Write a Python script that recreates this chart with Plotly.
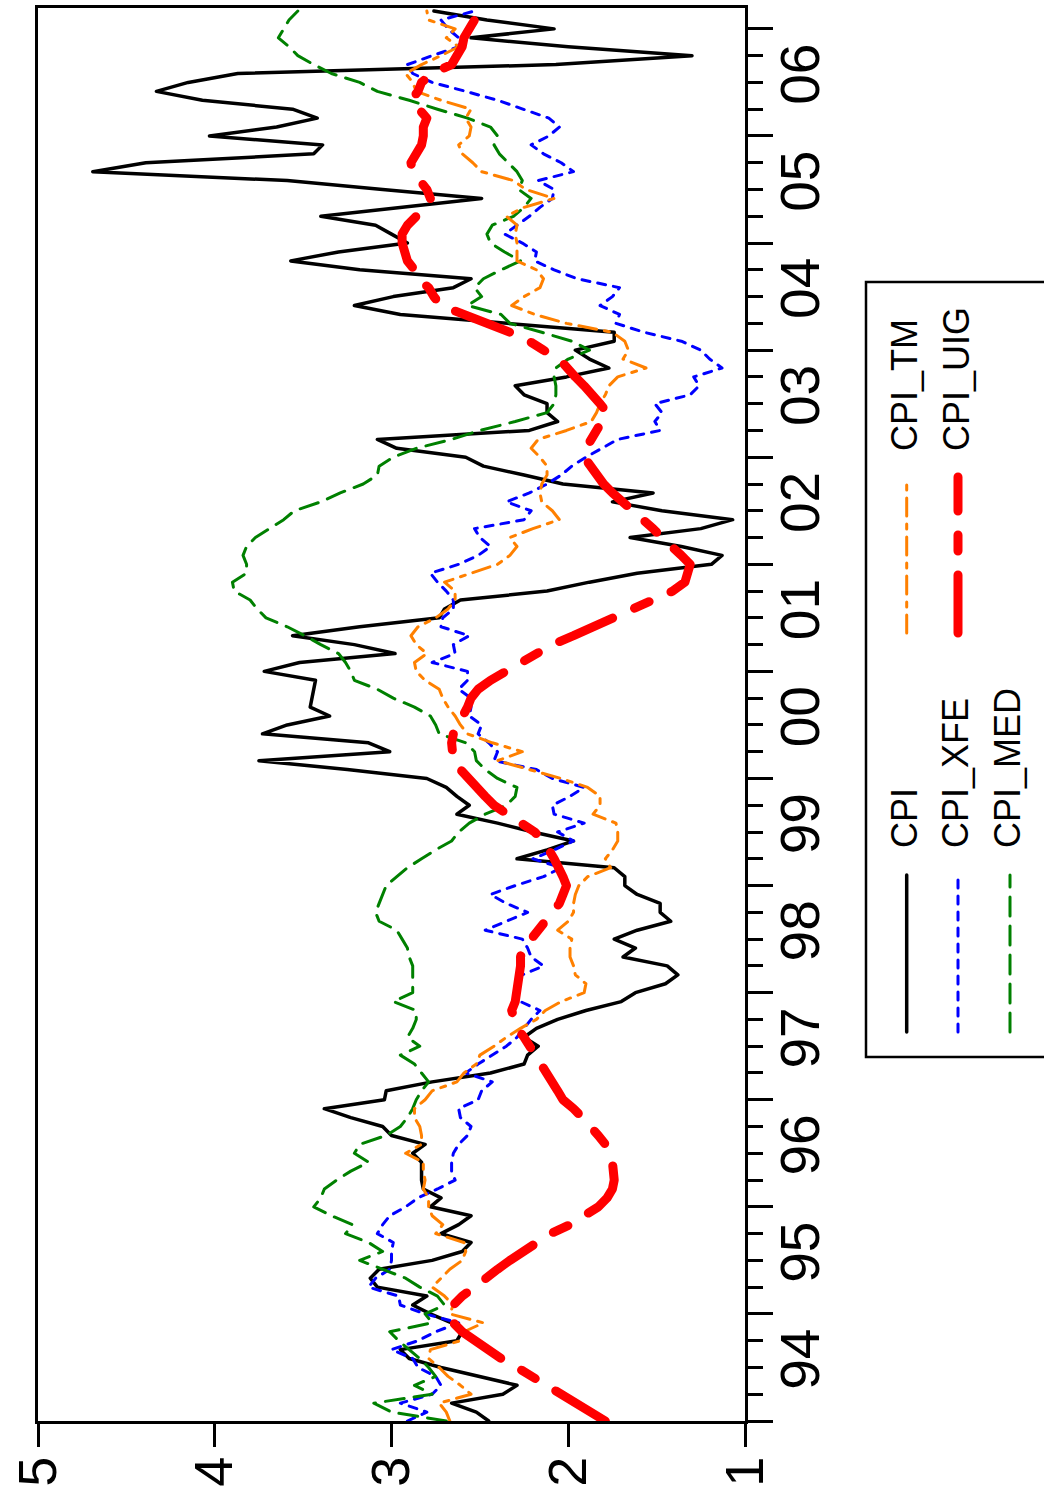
import pandas as pd
import plotly.graph_objects as go

# Monthly observations, Jan 1994 - Mar 2007 (year-over-year inflation, %)
months = pd.date_range("1994-01-01", periods=159, freq="MS")
t = list(months.year + (months.month - 1) / 12.0)

cpi = [
    2.45, 2.52, 2.66, 2.37, 2.29, 2.51, 2.72, 2.90, 2.95, 2.63, 2.60, 2.66, 2.78, 2.88, 2.80, 3.08, 3.12, 3.07, 2.77, 2.60, 2.55, 2.72,
    2.62, 2.55, 2.78, 2.72, 2.82, 2.83, 2.83, 2.83, 2.88, 2.81, 3.00, 3.05, 3.23, 3.38, 3.04, 3.03, 2.77, 2.44, 2.25, 2.23, 2.17, 2.25,
    2.18, 2.06, 1.90, 1.70, 1.62, 1.45, 1.38, 1.44, 1.69, 1.62, 1.74, 1.61, 1.42, 1.48, 1.48, 1.61, 1.68, 1.68, 1.74, 2.29, 2.12, 1.97,
    2.20, 2.40, 2.63, 2.56, 2.63, 2.69, 2.80, 3.25, 3.75, 3.01, 3.13, 3.73, 3.59, 3.35, 3.46, 3.45, 3.44, 3.43, 3.72, 3.52, 2.98, 3.21, 3.56,
    3.18, 2.73, 2.70, 2.61, 2.12, 1.88, 1.61, 1.19, 1.13, 1.36, 1.65, 1.25, 1.07, 1.47, 1.75, 1.52, 2.03, 2.25, 2.48, 2.58, 2.97, 3.08, 2.22, 2.06,
    2.12, 2.12, 2.25, 2.30, 2.01, 1.77, 1.88, 1.96, 1.74, 1.74, 2.35, 2.95, 3.21, 2.99, 2.65, 2.55, 3.18, 3.57, 3.30, 2.91, 3.00, 3.09, 3.40,
    2.95, 2.49, 3.05, 3.59, 4.69, 4.39, 3.44, 3.39, 4.03, 3.65, 3.42, 3.56, 4.07, 4.33, 4.15, 3.87, 2.07, 1.30, 2.00, 2.55, 2.08, 2.46, 2.76,
]

cpi_xfe = [
    2.91, 2.80, 2.95, 2.77, 2.72, 2.75, 2.85, 2.88, 3.00, 2.85, 2.75, 2.62, 2.81, 2.95, 2.96, 3.13, 3.09, 3.01, 3.00, 3.00, 2.99, 3.08,
    3.05, 3.01, 2.92, 2.85, 2.74, 2.64, 2.66, 2.66, 2.65, 2.62, 2.57, 2.55, 2.61, 2.62, 2.51, 2.49, 2.43, 2.58, 2.51, 2.43, 2.35, 2.29,
    2.25, 2.21, 2.16, 2.27, 2.29, 2.29, 2.26, 2.14, 2.21, 2.23, 2.26, 2.47, 2.35, 2.23, 2.35, 2.44, 2.30, 2.14, 2.04, 2.20, 2.08, 1.97,
    2.06, 1.91, 2.08, 2.09, 1.99, 1.91, 2.09, 2.18, 2.42, 2.40, 2.45, 2.51, 2.49, 2.56, 2.55, 2.55, 2.62, 2.57, 2.57, 2.77, 2.64, 2.65, 2.56,
    2.72, 2.71, 2.65, 2.65, 2.69, 2.74, 2.78, 2.62, 2.51, 2.44, 2.50, 2.53, 2.25, 2.21, 2.35, 2.22, 2.12, 2.04, 1.98, 1.90, 1.81, 1.72, 1.48, 1.51,
    1.47, 1.51, 1.31, 1.26, 1.29, 1.13, 1.20, 1.25, 1.36, 1.57, 1.73, 1.71, 1.82, 1.75, 1.71, 1.95, 2.08, 2.19, 2.18, 2.26, 2.36, 2.29, 2.22,
    2.16, 2.09, 2.08, 2.17, 1.97, 2.04, 2.14, 2.21, 2.11, 2.05, 2.11, 2.26, 2.40, 2.58, 2.77, 2.88, 2.91, 2.77, 2.62, 2.62, 2.68, 2.72, 2.53,
]

cpi_med = [
    2.69, 3.00, 3.10, 2.77, 2.87, 2.75, 2.79, 2.84, 2.90, 2.96, 3.01, 2.77, 2.81, 2.70, 2.74, 2.84, 2.92, 3.05, 3.18, 3.05, 3.13, 3.26,
    3.22, 3.34, 3.44, 3.40, 3.38, 3.31, 3.23, 3.13, 3.21, 3.18, 3.03, 2.95, 2.91, 2.88, 2.86, 2.83, 2.79, 2.83, 2.87, 2.95, 2.84, 2.91,
    2.88, 2.86, 2.86, 2.99, 2.88, 2.88, 2.88, 2.88, 2.90, 2.91, 2.94, 2.97, 3.07, 3.09, 3.07, 3.05, 3.03, 2.97, 2.91, 2.83, 2.75, 2.66,
    2.62, 2.56, 2.47, 2.35, 2.30, 2.29, 2.40, 2.47, 2.52, 2.53, 2.58, 2.73, 2.75, 2.78, 2.87, 2.99, 3.08, 3.21, 3.23, 3.26, 3.30, 3.40, 3.49,
    3.59, 3.71, 3.76, 3.80, 3.89, 3.90, 3.82, 3.82, 3.84, 3.82, 3.77, 3.69, 3.61, 3.55, 3.40, 3.29, 3.16, 3.08, 3.07, 2.99, 2.86, 2.66, 2.50, 2.30,
    2.12, 2.08, 2.07, 2.07, 2.08, 2.07, 2.00, 1.88, 1.98, 2.15, 2.33, 2.38, 2.57, 2.49, 2.53, 2.48, 2.38, 2.27, 2.36, 2.44, 2.46, 2.43, 2.31,
    2.25, 2.21, 2.28, 2.26, 2.29, 2.34, 2.39, 2.42, 2.40, 2.44, 2.57, 2.74, 2.90, 3.08, 3.18, 3.34, 3.44, 3.53, 3.58, 3.64, 3.61, 3.58, 3.53,
]

cpi_tm = [
    2.67, 2.69, 2.73, 2.55, 2.61, 2.68, 2.73, 2.79, 2.78, 2.61, 2.59, 2.48, 2.67, 2.65, 2.70, 2.77, 2.72, 2.67, 2.60, 2.58, 2.59, 2.75,
    2.71, 2.77, 2.79, 2.79, 2.82, 2.81, 2.82, 2.82, 2.92, 2.83, 2.83, 2.84, 2.87, 2.87, 2.81, 2.77, 2.63, 2.59, 2.52, 2.50, 2.42, 2.35,
    2.27, 2.18, 2.13, 2.04, 1.91, 1.90, 1.96, 1.97, 1.99, 1.99, 1.98, 2.06, 2.00, 1.97, 1.97, 1.96, 1.94, 1.89, 1.76, 1.79, 1.75, 1.72,
    1.72, 1.73, 1.86, 1.82, 1.82, 1.89, 2.04, 2.22, 2.40, 2.26, 2.43, 2.57, 2.61, 2.64, 2.68, 2.71, 2.73, 2.81, 2.86, 2.87, 2.80, 2.86, 2.89,
    2.85, 2.75, 2.68, 2.64, 2.64, 2.70, 2.55, 2.40, 2.33, 2.29, 2.33, 2.20, 2.05, 2.09, 2.15, 2.16, 2.15, 2.12, 2.12, 2.16, 2.21, 2.17, 2.01, 1.87,
    1.84, 1.82, 1.79, 1.77, 1.72, 1.56, 1.69, 1.66, 1.68, 1.75, 2.01, 2.19, 2.32, 2.25, 2.16, 2.14, 2.18, 2.29, 2.29, 2.29, 2.30, 2.29, 2.35,
    2.25, 2.08, 2.24, 2.31, 2.49, 2.54, 2.60, 2.62, 2.56, 2.55, 2.58, 2.55, 2.72, 2.86, 2.88, 2.92, 2.83, 2.72, 2.62, 2.69, 2.64, 2.79, 2.80,
]

cpi_uig = [
    1.79, 1.87, 1.95, 2.04, 2.13, 2.21, 2.29, 2.38, 2.46, 2.53, 2.60, 2.65, 2.68, 2.65, 2.60, 2.53, 2.47, 2.40, 2.33, 2.25, 2.17, 2.10,
    1.99, 1.90, 1.83, 1.78, 1.75, 1.74, 1.74, 1.75, 1.77, 1.79, 1.83, 1.87, 1.92, 1.97, 2.03, 2.06, 2.09, 2.12, 2.16, 2.18, 2.21, 2.25,
    2.29, 2.31, 2.32, 2.30, 2.29, 2.29, 2.28, 2.27, 2.27, 2.26, 2.21, 2.17, 2.13, 2.10, 2.05, 2.03, 2.01, 2.03, 2.05, 2.08, 2.11, 2.14,
    2.19, 2.27, 2.35, 2.42, 2.47, 2.52, 2.57, 2.61, 2.65, 2.66, 2.66, 2.65, 2.62, 2.60, 2.57, 2.55, 2.51, 2.44, 2.35, 2.26, 2.17, 2.09, 1.97,
    1.86, 1.76, 1.66, 1.55, 1.41, 1.34, 1.32, 1.31, 1.36, 1.42, 1.47, 1.52, 1.58, 1.64, 1.70, 1.75, 1.80, 1.84, 1.88, 1.91, 1.90, 1.87, 1.83, 1.80,
    1.78, 1.82, 1.86, 1.91, 1.96, 2.01, 2.05, 2.14, 2.22, 2.33, 2.47, 2.61, 2.72, 2.76, 2.79, 2.85, 2.87, 2.91, 2.93, 2.94, 2.94, 2.91, 2.86,
    2.80, 2.78, 2.80, 2.84, 2.88, 2.89, 2.86, 2.83, 2.82, 2.82, 2.80, 2.85, 2.89, 2.85, 2.83, 2.77, 2.66, 2.63, 2.60, 2.59, 2.56, 2.52, 2.50,
]

series_names = ["CPI", "CPI_XFE", "CPI_MED", "CPI_TM", "CPI_UIG"]
series_values = [cpi, cpi_xfe, cpi_med, cpi_tm, cpi_uig]

year_starts = list(range(1994, 2008))
year_labels = ["94", "95", "96", "97", "98", "99", "00", "01", "02", "03", "04", "05", "06"]
value_ticks = [1, 2, 3, 4, 5]

# line styles (round caps are added in the page, so dashes are drawn a bit shorter)
styles = {
    "CPI":     dict(color="#000000", width=3.5, dash="solid"),
    "CPI_XFE": dict(color="#0000ff", width=3, dash="8px,8px"),
    "CPI_MED": dict(color="#008000", width=3, dash="19px,10px"),
    "CPI_TM":  dict(color="#ff8000", width=3, dash="18px,8px,5px,8px"),
    "CPI_UIG": dict(color="#ff0000", width=9, dash="58px,24px,16px,24px"),
}

FIG_W, FIG_H = 1044, 1495
L, R_PX, T, B_PX = 38, 745, 8, 1421
paper_w = FIG_W - L
paper_h = B_PX - T

t_top = 2007.195

fig = go.Figure()

for name, vals in zip(series_names, series_values):
    fig.add_trace(go.Scatter(x=vals, y=t, mode="lines", name=name,
                             line=styles[name], hoverinfo="skip"))

# carrier trace so the label axis is drawn
fig.add_trace(go.Scatter(x=[None], y=[None], yaxis="y2", mode="lines",
                         showlegend=False, hoverinfo="skip"))

# legend box content (rotated), drawn on a pixel-scaled helper subplot
legend_slots = {
    "CPI":     (906.7, 1032, 875, 904, 850),
    "CPI_XFE": (958.0, 1032, 875, 955, 850),
    "CPI_MED": (1010.0, 1032, 875, 1007, 850),
    "CPI_TM":  (906.7, 633, 477, 904, 453),
    "CPI_UIG": (958.0, 633, 477, 956, 453),
}
annotations = []
for name in series_names:
    lx, ly0, ly1, tx, ty = legend_slots[name]
    fig.add_trace(go.Scatter(x=[lx, lx], y=[ly0, ly1], xaxis="x3", yaxis="y3",
                             mode="lines", line=styles[name], showlegend=False,
                             hoverinfo="skip"))
    annotations.append(dict(x=tx, y=ty, xref="x3", yref="y3", text=name,
                            showarrow=False, textangle=-90,
                            xanchor="center", yanchor="bottom",
                            font=dict(size=36, color="black")))

fig.update_layout(
    width=FIG_W, height=FIG_H, autosize=False,
    margin=dict(l=L, r=0, t=T, b=FIG_H - B_PX, pad=0, autoexpand=False),
    paper_bgcolor="white", plot_bgcolor="white",
    showlegend=False,
    font=dict(family="Liberation Sans, Arial, sans-serif", color="black"),
    xaxis=dict(
        domain=[0, (R_PX - L) / paper_w], range=[5, 1], automargin=False,
        tickmode="array", tickvals=value_ticks,
        ticks="outside", ticklen=23, tickwidth=2.5, tickcolor="black",
        tickangle=-90, tickfont=dict(size=54), ticklabelstandoff=-12,
        showline=True, linewidth=3, linecolor="black", mirror=True,
        showgrid=False, zeroline=False, anchor="y",
    ),
    yaxis=dict(
        range=[1994, t_top], side="right", anchor="x", automargin=False,
        tickmode="array", tickvals=year_starts, showticklabels=False,
        ticks="outside", ticklen=25, tickwidth=2.5, tickcolor="black",
        minor=dict(tickvals=[1994 + k * 0.25 for k in range(53)],
                   ticks="outside", ticklen=15, tickwidth=2.5,
                   tickcolor="black", showgrid=False),
        showline=True, linewidth=3, linecolor="black", mirror=True,
        showgrid=False, zeroline=False,
    ),
    yaxis2=dict(
        range=[1994, t_top], overlaying="y", side="right", anchor="x",
        automargin=False,
        tickmode="array", tickvals=[y + 0.5 for y in year_starts[:-1]],
        ticktext=year_labels, ticks="outside", ticklen=7,
        tickcolor="rgba(0,0,0,0)", tickangle=-90, tickfont=dict(size=55),
        showline=False, showgrid=False, zeroline=False,
    ),
    xaxis3=dict(domain=[(850 - L) / paper_w, 1], range=[850, 1044],
                visible=False, anchor="y3", fixedrange=True, automargin=False),
    yaxis3=dict(domain=[(B_PX - 1070) / paper_h, (B_PX - 270) / paper_h],
                range=[1070, 270], visible=False, anchor="x3", fixedrange=True,
                automargin=False),
    annotations=annotations,
    shapes=[dict(type="rect", xref="x3", yref="y3", x0=866, x1=1100,
                 y0=282, y1=1057, line=dict(color="black", width=2.5),
                 fillcolor="rgba(0,0,0,0)", layer="below")],
)

page_style = (
    "var st=document.createElement('style');"
    "st.innerHTML='.js-line{stroke-linecap:round;stroke-linejoin:round;}';"
    "document.head.appendChild(st);"
)
fig.write_html("out.html", post_script=page_style,
               config={"displayModeBar": False})
